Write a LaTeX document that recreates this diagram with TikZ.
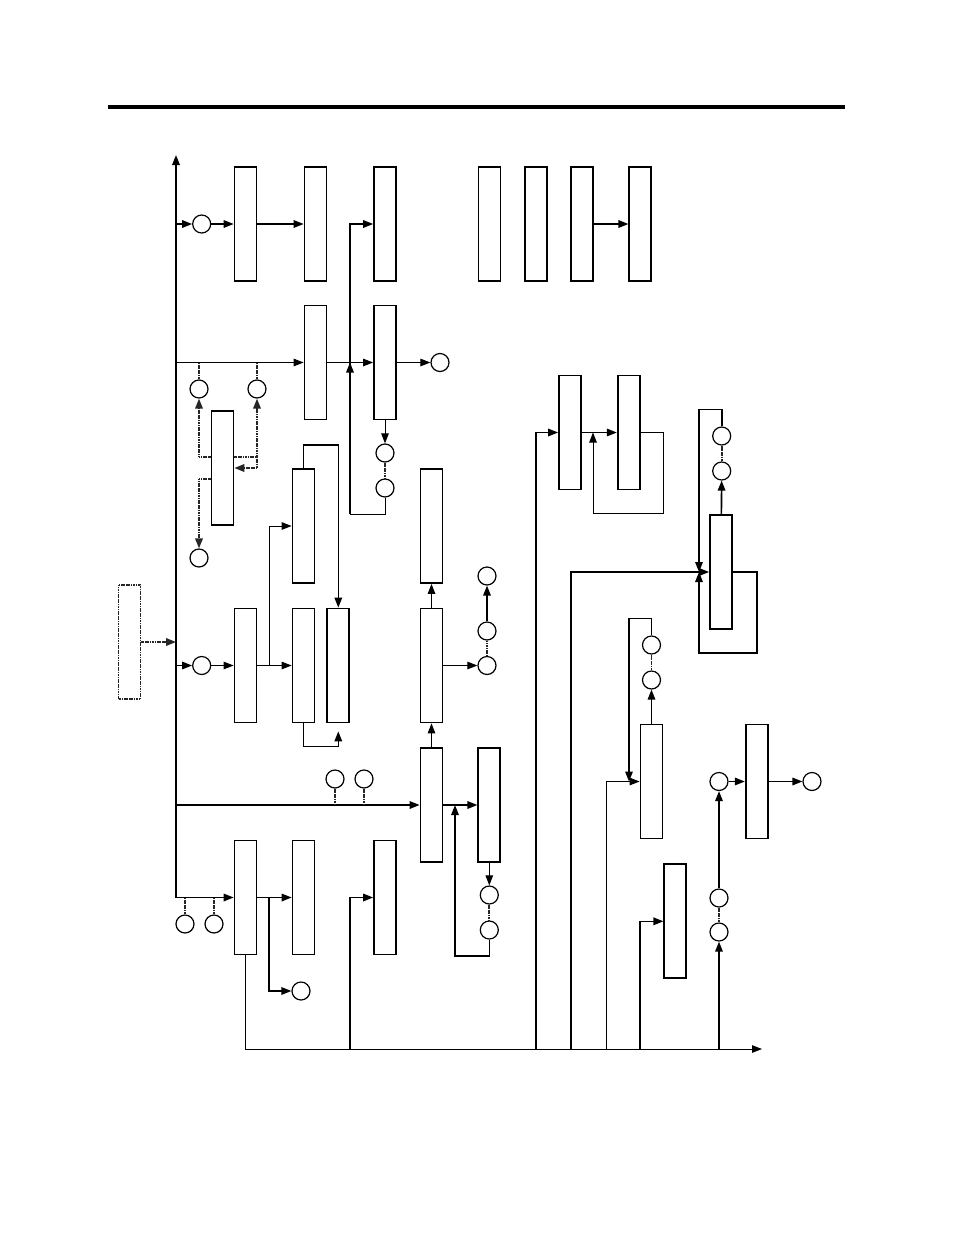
\documentclass[tikz,border=0pt]{standalone}
\usetikzlibrary{arrows.meta}

\begin{document}
\begin{tikzpicture}[
  x=1pt, y=-1pt,
  >={Triangle[length=10pt, width=7.5pt]},
  box/.style={draw, line width=1.7pt, minimum width=22pt, minimum height=114pt, inner sep=0pt},
  dbox/.style={box, draw=black!85, dash pattern=on 1.2pt off 0.5pt},
  port/.style={circle, draw, line width=1.2pt, minimum size=18pt, inner sep=0pt},
  wire/.style={line width=1.6pt},
  flow/.style={wire, ->},
  tflow/.style={line width=1pt, ->},
  link/.style={line width=1.8pt, draw=black!85, dash pattern=on 1.2pt off 0.5pt}
]
\useasboundingbox (0,0) rectangle (954,1235);
\coordinate (rl) at (108,107);
\coordinate (rr) at (845,107);
\draw[line width=4pt] (rl) -- (rr);

% blocks
\node[box] (b1)  at (245.5,224) {};
\node[box] (b2)  at (315.5,224) {};
\node[box] (b3)  at (385,224) {};
\node[box] (t1)  at (489.5,224) {};
\node[box] (t2)  at (535.7,224) {};
\node[box] (t3)  at (582.3,224) {};
\node[box] (t4)  at (640.3,224) {};
\node[box] (b4)  at (315.5,362.5) {};
\node[box] (b5)  at (385,362.5) {};
\node[box] (s1)  at (222.5,468) {};
\node[dbox] (pin) at (129.5,642) {};
\node[box] (b7)  at (245.5,665.5) {};
\node[box] (b8)  at (303.5,665.5) {};
\node[box] (b9)  at (303.5,526) {};
\node[box] (b10) at (338.3,665.5) {};
\node[box] (b11) at (431.5,526) {};
\node[box] (b12) at (431.5,665.5) {};
\node[box] (b13) at (431.5,805) {};
\node[box] (b14) at (489.3,805) {};
\node[box] (b15) at (245.5,897.5) {};
\node[box] (b16) at (303.5,897.5) {};
\node[box] (b17) at (385,897.5) {};
\node[box] (c1)  at (570,432.5) {};
\node[box] (c2)  at (628.7,432.5) {};
\node[box] (c3)  at (721,572) {};
\node[box] (c4)  at (651.5,781.5) {};
\node[box] (c5)  at (675.3,921.3) {};
\node[box] (c6)  at (756.7,781.5) {};

% ports
\node[port] (o1)  at (201.7,224) {};
\node[port] (o2)  at (440,362.5) {};
\node[port] (o3)  at (199,389) {};
\node[port] (o4)  at (257,389) {};
\node[port] (o5)  at (385,453) {};
\node[port] (o6)  at (385,488) {};
\node[port] (o7)  at (199,558) {};
\node[port] (o8)  at (201.7,665.5) {};
\node[port] (o9)  at (487,576) {};
\node[port] (o10) at (487,631) {};
\node[port] (o11) at (487,665.5) {};
\node[port] (o12) at (335,779) {};
\node[port] (o13) at (364,779) {};
\node[port] (o14) at (489.3,895) {};
\node[port] (o15) at (489.3,930) {};
\node[port] (o16) at (185,924) {};
\node[port] (o17) at (214,924) {};
\node[port] (o18) at (301,991) {};
\node[port] (o19) at (721.7,436) {};
\node[port] (o20) at (721.7,471) {};
\node[port] (o21) at (651.5,645) {};
\node[port] (o22) at (651.5,680) {};
\node[port] (o23) at (719,781.5) {};
\node[port] (o24) at (719,898) {};
\node[port] (o25) at (719,932) {};
\node[port] (o26) at (812,781.5) {};

% junctions
\coordinate (bustop) at (176,155);
\coordinate (busbot) at (176,897.5);
\coordinate (ja) at (350,514);
\coordinate (j1) at (269,665.5);
\coordinate (j2) at (455,805);
\coordinate (j2b) at (455,956);
\coordinate (j3) at (269,897.5);
\coordinate (jb) at (350,1049);
\coordinate (busend) at (762,1049);
\coordinate (r1) at (536,1049);
\coordinate (r2) at (571,1049);
\coordinate (r3) at (606,1049);
\coordinate (r4) at (640,1049);
\coordinate (r5) at (719,1049);
\coordinate (j5) at (593,432.5);
\coordinate (j6) at (699,572);
\coordinate (j7) at (629,781.5);

% main bus
\draw[wire, <->] (bustop) -- (busbot) -- (b15);
\draw[link, ->] (pin) -- (pin -| bustop);

% top rows
\draw[flow] (bustop |- o1) -- (o1);
\draw[flow] (o1) -- (b1);
\draw[flow] (b1) -- (b2);
\draw[flow] (ja) |- (b3);
\draw[flow] (ja) -- (ja |- b5);
\draw[flow] (t3) -- (t4);
\draw[tflow] (bustop |- b4) -- (b4);
\draw[tflow] (b4) -- (b5);
\draw[tflow] (b5) -- (o2);
\draw[link] (o3) -- (o3 |- b4);
\draw[link] (o4) -- (o4 |- b4);
\draw[tflow] (b5) -- (o5);
\draw[link] (o5) -- (o6);
\draw[tflow, -] (o6) |- (ja);

% small block s1
\draw[link, ->] ([yshift=11pt]s1.west) -| (o3);
\draw[link, ->] ([yshift=11pt]s1.east) -| (o4);
\draw[link] ([yshift=11pt]s1.east -| o4) -- (o4 |- s1);
\draw[link, ->] (o4 |- s1) -- (s1.east);
\draw[link, ->] ([yshift=-11pt]s1.west) -| (o7);

% middle rows
\draw[flow] (bustop |- o8) -- (o8);
\draw[tflow] (o8) -- (b7);
\draw[tflow] (b7) -- (b8);
\draw[tflow] (j1) |- (b9);
\draw[flow] (b9.north) -- ++(0,-23) -| (b10.north);
\draw[flow] (b8.south) -- ++(0,23) -| ([yshift=-8pt]b10.south);
\draw[tflow] (b12) -- (b11);
\draw[tflow] (b13) -- (b12);
\draw[tflow] (b12) -- (o11);
\draw[link] (o11) -- (o10);
\draw[flow] (o10) -- (o9);

\draw[flow] (bustop |- b13) -- (b13);
\draw[link] (o12) -- (o12 |- b13);
\draw[link] (o13) -- (o13 |- b13);
\draw[flow] (b13) -- (b14);
\draw[tflow] (b14) -- (o14);
\draw[link] (o14) -- (o15);
\draw[flow] (o15) |- (j2b) -- (j2);

% lower row
\draw[link] (o16) -- (o16 |- b15);
\draw[link] (o17) -- (o17 |- b15);
\draw[flow] (b15) -- (b16);
\draw[flow] (j3) |- (o18);
\draw[flow] (jb) |- (b17);
\draw[tflow] (b15.south) |- (busend);

% right side
\draw[flow] (r1) |- (c1);
\draw[flow] (c1) -- (c2);
\draw[tflow] (c2.east) -- ++(23,0) -- ++(0,81) -| (j5);
\draw[flow] (r2) |- (c3);
\draw[flow] (c3) -- (o20);
\draw[link] (o20) -- (o19);
\draw[flow] (o19.north) -- ++(0,-17) -| (j6);
\draw[flow] (c3.east) -- ++(24,0) -- ++(0,81) -| (j6);
\draw[tflow] (r3) |- (c4);
\draw[flow] (c4) -- (o22);
\draw[link] (o22) -- (o21);
\draw[flow] (o21.north) -- ++(0,-17) -| (j7);
\draw[flow] (r4) |- (c5);
\draw[flow] (r5) -- (o25);
\draw[link] (o25) -- (o24);
\draw[flow] (o24) -- (o23);
\draw[flow] (o23) -- (c6);
\draw[flow] (c6) -- (o26);
\end{tikzpicture}
\end{document}
